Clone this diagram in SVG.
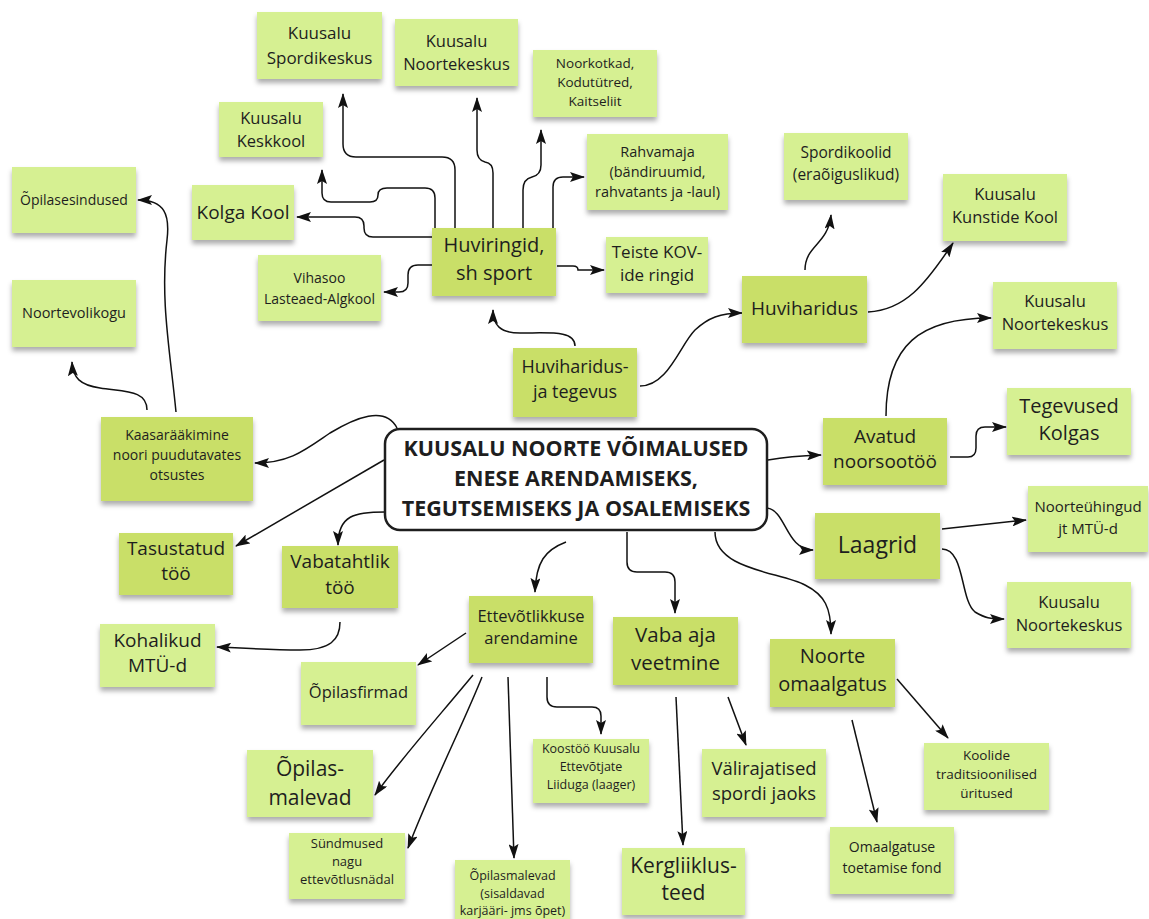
<svg xmlns="http://www.w3.org/2000/svg" width="1149" height="919" viewBox="0 0 1149 919">
<defs>
<style>
.leaf rect{fill:#d6f092;filter:url(#sh)}
.cat rect{fill:#c9df68;filter:url(#sh)}
text{font-family:"Open Sans","DejaVu Sans",sans-serif;fill:#1e1e1e;text-anchor:middle}
#connectors path{fill:none;stroke:#111;stroke-width:1.5;marker-end:url(#ah)}
</style>
<filter id="sh" x="-10%" y="-10%" width="120%" height="140%">
<feDropShadow dx="0" dy="4" stdDeviation="2.5" flood-color="#000" flood-opacity="0.32"/>
</filter>
<marker id="ah" markerUnits="userSpaceOnUse" markerWidth="16" markerHeight="10" refX="14" refY="5" orient="auto">
<path d="M0,0 L15,5 L0,10 L3,5 Z" fill="#111"/>
</marker>
</defs>
<rect width="1149" height="919" fill="#fff"/>

<g id="connectors">
<path d="M455,228 V170 Q455,157 442,157 H356 Q343,157 343,144 V94"/>
<path d="M435,228 V198 Q435,188 425,188 H387 Q378,188 378,195 Q378,202 370,202 H331 Q322,202 322,193 V170"/>
<path d="M432,237 H373 Q364,237 364,228 V226 Q364,217 355,217 H297"/>
<path d="M493,228 V173 Q493,163 485,162 Q477,160 477,150 V98"/>
<path d="M523,228 V190 Q523,179 532,177 Q541,175 541,165 V130"/>
<path d="M553,228 V187 Q553,177 563,177 H584"/>
<path d="M557,266 H573 Q578,266 578,270 H604"/>
<path d="M432,265 H418 Q408,265 408,275 V283 Q408,292 399,292 H384"/>
<path d="M575,346 C575,330 550,333 520,333 C500,333 493,325 493,310"/>
<path d="M640,386 C668,386 680,345 695,330 C708,318 720,313 742,313"/>
<path d="M805,270 C805,245 828,245 831,215"/>
<path d="M868,312 C905,310 925,285 953,243"/>
<path d="M886,416 C886,345 920,318 991,318"/>
<path d="M950,457 H968 Q976,457 976,448 V436 Q976,427 985,427 H1006"/>
<path d="M768,460 Q790,456 821,455"/>
<path d="M767,508 C786,510 786,550 813,550"/>
<path d="M715,532 C715,570 780,572 805,585 C825,595 831,608 831,634"/>
<path d="M627,532 V562 Q627,572 637,572 H665 Q675,572 675,582 V613"/>
<path d="M566,542 C545,550 536,562 535,592"/>
<path d="M385,512 C355,512 338,515 338,545"/>
<path d="M384,460 L236,546"/>
<path d="M397,428 C385,405 355,418 330,433 C305,450 290,463 255,463"/>
<path d="M176,412 C170,350 160,300 167,240 C170,215 165,200 138,200"/>
<path d="M147,410 C147,390 125,392 100,388 C80,385 73,378 72,362"/>
<path d="M340,622 C340,640 330,650 300,650 C270,650 240,648 217,647"/>
<path d="M466,633 L418,665"/>
<path d="M473,675 C440,715 400,760 375,795"/>
<path d="M482,677 C465,720 430,790 408,848"/>
<path d="M508,677 L514,858"/>
<path d="M547,677 V697 Q547,707 557,707 H592 Q601,707 601,716 V734"/>
<path d="M676,697 L683,845"/>
<path d="M728,697 L746,745"/>
<path d="M852,720 L877,822"/>
<path d="M897,679 L948,738"/>
<path d="M942,529 Q980,525 1026,520"/>
<path d="M942,549 C965,549 960,600 975,612 C985,618 990,619 1004,619"/>
</g>

<g id="center">
<rect x="385" y="429" width="382" height="101" rx="15" fill="#fff" stroke="#1e1e1e" stroke-width="2.5"/>
<text font-size="21.5" font-weight="bold"><tspan x="576" y="456">KUUSALU NOORTE VÕIMALUSED</tspan><tspan x="576" y="486">ENESE ARENDAMISEKS,</tspan><tspan x="576" y="516">TEGUTSEMISEKS JA OSALEMISEKS</tspan></text>
</g>

<g id="n-spordikeskus" class="leaf"><rect x="257" y="12" width="125" height="67"/><text font-size="17"><tspan x="319.5" y="39">Kuusalu</tspan><tspan x="319.5" y="64">Spordikeskus</tspan></text></g>
<g id="n-keskkool" class="leaf"><rect x="219" y="102" width="104" height="55"/><text font-size="16.5"><tspan x="271" y="124">Kuusalu</tspan><tspan x="271" y="147">Keskkool</tspan></text></g>
<g id="n-opilasesindused" class="leaf"><rect x="12" y="167" width="124" height="66"/><text font-size="14" x="74" y="205">Õpilasesindused</text></g>
<g id="n-kolga" class="leaf"><rect x="192" y="185" width="102" height="55"/><text font-size="19" x="243" y="219">Kolga Kool</text></g>
<g id="n-vihasoo" class="leaf"><rect x="258" y="255" width="123" height="66"/><text font-size="14"><tspan x="319.5" y="283">Vihasoo</tspan><tspan x="319.5" y="304">Lasteaed-Algkool</tspan></text></g>
<g id="n-noortevolikogu" class="leaf"><rect x="12" y="280" width="124" height="67"/><text font-size="14.5" x="74" y="318">Noortevolikogu</text></g>
<g id="n-noortekeskus-top" class="leaf"><rect x="395" y="19" width="123" height="67"/><text font-size="16.5"><tspan x="456.5" y="47">Kuusalu</tspan><tspan x="456.5" y="70">Noortekeskus</tspan></text></g>
<g id="n-noorkotkad" class="leaf"><rect x="533" y="50" width="124" height="67"/><text font-size="13.5"><tspan x="595" y="68">Noorkotkad,</tspan><tspan x="595" y="87">Kodutütred,</tspan><tspan x="595" y="106">Kaitseliit</tspan></text></g>
<g id="n-rahvamaja" class="leaf"><rect x="587" y="134" width="141" height="76"/><text font-size="14.5"><tspan x="657.5" y="157">Rahvamaja</tspan><tspan x="657.5" y="177">(bändiruumid,</tspan><tspan x="657.5" y="197">rahvatants ja -laul)</tspan></text></g>
<g id="n-huviringid" class="cat"><rect x="432" y="228" width="124" height="68"/><text font-size="20"><tspan x="494" y="252">Huviringid,</tspan><tspan x="494" y="280">sh sport</tspan></text></g>
<g id="n-teiste" class="leaf"><rect x="606" y="237" width="102" height="56"/><text font-size="17"><tspan x="657" y="258">Teiste KOV-</tspan><tspan x="657" y="281">ide ringid</tspan></text></g>
<g id="n-spordikoolid" class="leaf"><rect x="784" y="133" width="124" height="67"/><text font-size="15.5"><tspan x="846" y="158">Spordikoolid</tspan><tspan x="846" y="180">(eraõiguslikud)</tspan></text></g>
<g id="n-kunstide" class="leaf"><rect x="943" y="174" width="124" height="67"/><text font-size="16.5"><tspan x="1005" y="200">Kuusalu</tspan><tspan x="1005" y="223">Kunstide Kool</tspan></text></g>
<g id="n-huviharidus" class="cat"><rect x="742" y="276" width="125" height="67"/><text font-size="19" x="804.5" y="315">Huviharidus</text></g>
<g id="n-noortekeskus-right" class="leaf"><rect x="993" y="282" width="124" height="67"/><text font-size="16.5"><tspan x="1055" y="307">Kuusalu</tspan><tspan x="1055" y="330">Noortekeskus</tspan></text></g>
<g id="n-huviharidus-tegevus" class="cat"><rect x="513" y="348" width="124" height="69"/><text font-size="18"><tspan x="575" y="373">Huviharidus-</tspan><tspan x="575" y="398">ja tegevus</tspan></text></g>
<g id="n-avatud" class="cat"><rect x="823" y="418" width="124" height="67"/><text font-size="19"><tspan x="885" y="443">Avatud</tspan><tspan x="885" y="468">noorsootöö</tspan></text></g>
<g id="n-tegevused" class="leaf"><rect x="1007" y="388" width="124" height="67"/><text font-size="20"><tspan x="1069" y="413">Tegevused</tspan><tspan x="1069" y="440">Kolgas</tspan></text></g>
<g id="n-noorteuhingud" class="leaf"><rect x="1028" y="486" width="120" height="66"/><text font-size="15"><tspan x="1088" y="512">Noorteühingud</tspan><tspan x="1088" y="534">jt MTÜ-d</tspan></text></g>
<g id="n-laagrid" class="cat"><rect x="815" y="513" width="125" height="66"/><text font-size="23" x="877.5" y="553">Laagrid</text></g>
<g id="n-noortekeskus-br" class="leaf"><rect x="1007" y="582" width="124" height="66"/><text font-size="16.5"><tspan x="1069" y="608">Kuusalu</tspan><tspan x="1069" y="631">Noortekeskus</tspan></text></g>
<g id="n-omaalgatus" class="cat"><rect x="770" y="639" width="125" height="68"/><text font-size="20"><tspan x="832.5" y="663">Noorte</tspan><tspan x="832.5" y="691">omaalgatus</tspan></text></g>
<g id="n-koolide" class="leaf"><rect x="924" y="743" width="125" height="67"/><text font-size="13.5"><tspan x="986.5" y="760">Koolide</tspan><tspan x="986.5" y="779">traditsioonilised</tspan><tspan x="986.5" y="798">üritused</tspan></text></g>
<g id="n-fond" class="leaf"><rect x="830" y="827" width="124" height="67"/><text font-size="14"><tspan x="892" y="852">Omaalgatuse</tspan><tspan x="892" y="873">toetamise fond</tspan></text></g>
<g id="n-vabaaja" class="cat"><rect x="613" y="617" width="125" height="68"/><text font-size="20.5"><tspan x="675.5" y="642">Vaba aja</tspan><tspan x="675.5" y="670">veetmine</tspan></text></g>
<g id="n-valirajatised" class="leaf"><rect x="702" y="749" width="124" height="68"/><text font-size="18.5"><tspan x="764" y="775">Välirajatised</tspan><tspan x="764" y="800">spordi jaoks</tspan></text></g>
<g id="n-kergliiklus" class="leaf"><rect x="622" y="848" width="123" height="67"/><text font-size="21"><tspan x="683.5" y="873">Kergliiklus-</tspan><tspan x="683.5" y="900">teed</tspan></text></g>
<g id="n-ettevotlikkus" class="cat"><rect x="469" y="596" width="124" height="67"/><text font-size="16.5"><tspan x="531" y="622">Ettevõtlikkuse</tspan><tspan x="531" y="644">arendamine</tspan></text></g>
<g id="n-opilasfirmad" class="leaf"><rect x="301" y="662" width="115" height="63"/><text font-size="16.5" x="358.5" y="698">Õpilasfirmad</text></g>
<g id="n-opilas-malevad" class="leaf"><rect x="247" y="750" width="126" height="67"/><text font-size="21"><tspan x="310" y="776">Õpilas-</tspan><tspan x="310" y="805">malevad</tspan></text></g>
<g id="n-sundmused" class="leaf"><rect x="289" y="833" width="116" height="66"/><text font-size="13"><tspan x="347" y="848">Sündmused</tspan><tspan x="347" y="866">nagu</tspan><tspan x="347" y="884">ettevõtlusnädal</tspan></text></g>
<g id="n-opilasmalevad" class="leaf"><rect x="455" y="860" width="115" height="62"/><text font-size="12.5"><tspan x="512.5" y="880">Õpilasmalevad</tspan><tspan x="512.5" y="898">(sisaldavad</tspan><tspan x="512.5" y="915">karjääri- jms õpet)</tspan></text></g>
<g id="n-koostoo" class="leaf"><rect x="533" y="739" width="116" height="64"/><text font-size="12.5"><tspan x="591" y="753">Koostöö Kuusalu</tspan><tspan x="591" y="771">Ettevõtjate</tspan><tspan x="591" y="789">Liiduga (laager)</tspan></text></g>
<g id="n-kaasaraakimine" class="cat"><rect x="101" y="417" width="152" height="84"/><text font-size="14"><tspan x="177" y="440">Kaasarääkimine</tspan><tspan x="177" y="460">noori puudutavates</tspan><tspan x="177" y="480">otsustes</tspan></text></g>
<g id="n-tasustatud" class="cat"><rect x="119" y="533" width="114" height="62"/><text font-size="19"><tspan x="176" y="555">Tasustatud</tspan><tspan x="176" y="580">töö</tspan></text></g>
<g id="n-vabatahtlik" class="cat"><rect x="282" y="546" width="116" height="62"/><text font-size="19"><tspan x="340" y="568">Vabatahtlik</tspan><tspan x="340" y="594">töö</tspan></text></g>
<g id="n-kohalikud" class="leaf"><rect x="100" y="624" width="115" height="63"/><text font-size="19"><tspan x="157.5" y="647">Kohalikud</tspan><tspan x="157.5" y="672">MTÜ-d</tspan></text></g>
</svg>
